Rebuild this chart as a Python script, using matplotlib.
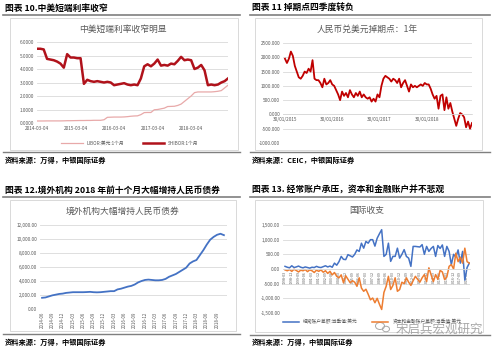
import numpy as np
import matplotlib
import matplotlib.pyplot as plt
from matplotlib.lines import Line2D
from matplotlib.patches import Rectangle, Ellipse
from matplotlib.ticker import FuncFormatter
matplotlib.use('agg')

plt.rcParams['font.family'] = ['Noto Sans CJK SC', 'DejaVu Sans']

W, H = 500, 353

# ---- 图表10: 中美短端利率 (monthly, 2014-03 ..)
rate_ticks = ["2014-03-04", "2015-03-04", "2016-03-04", "2017-03-04", "2018-03-04"]
shibor_1m = [5.5, 5.5, 5.45, 4.75, 4.7, 4.65, 4.55, 4.4, 4.1, 5.1,
             4.85, 4.85, 4.8, 4.8, 2.9, 3.2, 3.1, 3.05, 3.1, 3.05,
             3.0, 3.05, 3.0, 2.8, 2.85, 2.9, 2.95, 2.85, 2.8, 2.85,
             2.8, 3.3, 4.2, 4.35, 4.2, 4.4, 4.7, 4.25, 4.3, 4.25,
             4.4, 4.35, 4.6, 4.9, 4.65, 4.7, 4.65, 4.0, 4.1, 4.3,
             3.9, 2.8, 2.85, 2.8, 2.85, 3.0, 3.1, 3.3]
libor_1m = [0.15, 0.15, 0.15, 0.155, 0.155, 0.155, 0.155, 0.155, 0.16, 0.17,
            0.17, 0.175, 0.18, 0.185, 0.185, 0.19, 0.19, 0.2, 0.2, 0.2,
            0.24, 0.42, 0.43, 0.44, 0.44, 0.44, 0.45, 0.47, 0.5, 0.52,
            0.53, 0.62, 0.77, 0.78, 0.78, 0.98, 1.0, 1.05, 1.1, 1.22,
            1.23, 1.24, 1.3, 1.4, 1.6, 1.8, 2.0, 2.25, 2.3, 2.3,
            2.3, 2.3, 2.3, 2.32, 2.35, 2.4, 2.6, 2.8]

# ---- 图表11: 人民币兑美元掉期点 1年
swap_ticks = ["30/01/2015", "30/01/2016", "30/01/2017", "30/01/2018"]
swap_1y = [1950, 1800, 1950, 2200, 2050, 1700, 1500, 1300, 1250, 1350,
           1500, 1450, 1600, 1500, 1900, 1250, 1200, 1200, 1100, 950,
           1250, 1050, 1100, 1200, 1050, 1000, 850, 700, 500, 800,
           650, 750, 600, 850, 700, 600, 750, 650, 800, 600,
           700, 600, 550, 600, 450, 550, 450, 700, 600, 1000,
           1250, 1350, 1300, 1250, 1150, 1250, 1200, 1100, 1250, 950,
           1100, 1200, 1000, 800, 1050, 950, 1000, 950, 1000, 1050,
           1000, 1100, 1050, 1050, 900, 700, 550, 650, 200, 650,
           700, 150, 600, 200, 400, 100, -150, -400, -150, 50,
           0, -100, -450, -250, -500, -300]

# ---- 图表12: 境外机构持有人民币债券 (monthly, 2014-06 ..)
bond_ticks = ["2014-06", "2014-09", "2014-12", "2015-03", "2015-06", "2015-09",
              "2015-12", "2016-03", "2016-06", "2016-09", "2016-12", "2017-03",
              "2017-06", "2017-09", "2017-12", "2018-03", "2018-06", "2018-09"]
bond_hold = [1600, 1650, 1800, 1950, 2050, 2150, 2200, 2300, 2350, 2400,
             2400, 2400, 2400, 2420, 2450, 2400, 2380, 2400, 2450, 2500,
             2550, 2550, 2800, 2900, 3050, 3200, 3300, 3500, 3800, 4000,
             4150, 4200, 4150, 4100, 4100, 4150, 4300, 4600, 4800, 5000,
             5300, 5600, 5900, 6500, 6800, 7000, 7700, 8400, 9200, 9900,
             10300, 10600, 10750, 10550]

# ---- 图表13: 国际收支 (quarterly, 1998Q1 .. 2018Q3)
bop_quarters = ["%d-%s" % (1998 + q // 4, ["03", "06", "09", "12"][q % 4]) for q in range(83)]
current_acc = [90, 60, 40, 110, 50, 70, 100, 60, 40, 70,
               50, 30, 60, 50, 90, 60, 50, 80, 110, 70,
               100, 60, 200, 130, 250, 430, 330, 320, 490, 450,
               410, 500, 650, 600, 880, 710, 940, 880, 1000, 1000,
               780, 1050, 1200, 1340, 430, 500, 880, 260, 430, 430,
               710, 370, 500, 660, 430, 370, 90, 770, 770, 760,
               750, 830, 500, 770, 600, 700, 770, 430, 800, 700,
               820, 430, 770, 600, 150, 500, 400, 650, 200, 600,
               -380, 50, 200]
capital_acc = [-30, -60, -20, -80, -10, -50, -100, -40, -60, -20,
               -90, -30, -60, -120, -40, -80, -30, -110, -60, -150,
               -80, -200, -120, -250, -300, -200, -470, -230, -350, -470,
               -400, -450, -590, -300, -650, -760, -690, -860, -1050, -990,
               -1150, -1000, -1200, -1380, -800, -590, -250, -700, -560, -300,
               -760, -700, -450, -500, -300, -450, -560, -400, -250, -350,
               -450, -300, -190, -430, 40, -200, -430, -190, -350, -50,
               -100, -360, -270, 90, 150, 0, 540, 250, 400, 200,
               710, 250, 200]

GRID = '#D9D9D9'
TXT = '#595959'

fig = plt.figure(figsize=(W / 100, H / 100), dpi=100)


def fx(x):
    return x / W


def fy(y):
    return 1 - y / H


def make_axes(x0, y0, x1, y1):
    ax = fig.add_axes([fx(x0), fy(y1), (x1 - x0) / W, (y1 - y0) / H])
    for s in ax.spines.values():
        s.set_visible(False)
    ax.grid(axis='y', color=GRID, linewidth=0.6)
    ax.set_axisbelow(True)
    ax.tick_params(length=0, labelsize=3.4, labelcolor=TXT, pad=2)
    ax.patch.set_alpha(0)
    return ax


def hline(x0, x1, y, color='#7f7f7f', lw=1.2):
    fig.add_artist(Line2D([fx(x0), fx(x1)], [fy(y), fy(y)], color=color, lw=lw,
                          transform=fig.transFigure))


def box(x0, y0, x1, y1):
    fig.add_artist(Rectangle((fx(x0), fy(y1)), (x1 - x0) / W, (y1 - y0) / H,
                             fill=False, edgecolor=GRID, lw=0.7, transform=fig.transFigure))


def header(x, y, s):
    fig.text(fx(x), fy(y), s, fontsize=6.3, fontweight='bold', color='black',
             ha='left', va='center')


def footer(x, y, s):
    fig.text(fx(x), fy(y), s, fontsize=5.2, fontweight='bold', style='italic',
             color='black', ha='left', va='center')


def title(x, y, s):
    fig.text(fx(x), fy(y), s, fontsize=6.3, color=TXT, ha='center', va='center')


# frames, headers, footers
header(5, 8, "图表 10.中美短端利率收窄")
header(252, 8, "图表 11 掉期点四季度转负")
header(5, 190, "图表 12.境外机构 2018 年前十个月大幅增持人民币债券")
header(252, 190, "图表 13. 经常账户承压，资本和金融账户并不悲观")
hline(3, 240, 15)
hline(250, 490, 15)
hline(3, 240, 197)
hline(250, 490, 197)
box(10, 18, 238, 150)
box(255, 18, 482, 150)
box(10, 200, 236, 331)
box(255, 200, 483, 332)
hline(3, 240, 152, lw=1.0)
hline(250, 490, 152, lw=1.0)
hline(3, 240, 334, lw=1.0)
hline(250, 490, 335, lw=1.0)
footer(5, 160, "资料来源：万得，中银国际证券")
footer(252, 160, "资料来源：CEIC，中银国际证券")
footer(5, 342, "资料来源：万得，中银国际证券")
footer(252, 342, "资料来源：万得，中银国际证券")

# ---- panel 1
title(123, 29, "中美短端利率收窄明显")
ax1 = make_axes(37, 42, 228, 123)
x1 = np.arange(len(shibor_1m))
ax1.plot(x1, libor_1m, color='#E8A9A9', lw=0.9, label="LIBOR:美元:1个月")
ax1.plot(x1, shibor_1m, color='#B0121B', lw=1.8, label="SHIBOR:1个月")
ax1.set_xlim(0, len(shibor_1m) - 1)
ax1.set_ylim(0, 6)
ax1.set_yticks(np.arange(0, 7, 1))
ax1.yaxis.set_major_formatter(FuncFormatter(lambda v, p: "%.4f" % v))
ax1.set_xticks(np.arange(len(rate_ticks)) * 11.5)
ax1.set_xticklabels(rate_ticks)
ax1.legend(loc='center', bbox_to_anchor=(fx(130), fy(143)), bbox_transform=fig.transFigure,
           ncol=2, frameon=False, fontsize=3.4, handlelength=4.5, columnspacing=4,
           labelcolor=TXT)

# ---- panel 2
title(367, 29, "人民币兑美元掉期点：1年")
ax2 = make_axes(283, 43, 472, 143)
x2 = np.arange(len(swap_1y))
ax2.plot(x2, swap_1y, color='#C00000', lw=1.3)
ax2.set_xlim(-1, len(swap_1y) - 1)
ax2.set_ylim(-1000, 2500)
ax2.set_yticks(np.arange(-1000, 2501, 500))
ax2.yaxis.set_major_formatter(FuncFormatter(lambda v, p: "%.3f" % v))
ax2.spines['bottom'].set_visible(True)
ax2.spines['bottom'].set_position(('data', 0))
ax2.spines['bottom'].set_color(GRID)
ax2.spines['bottom'].set_linewidth(0.6)
ax2.set_xticks(np.arange(len(swap_ticks)) * 24)
ax2.set_xticklabels(swap_ticks)

# ---- panel 3
title(123, 211, "境外机构大幅增持人民币债券")
ax3 = make_axes(40, 225, 227, 309)
x3 = np.arange(len(bond_hold))
ax3.plot(x3, bond_hold, color='#4472C4', lw=1.3)
ax3.set_xlim(-0.6, len(bond_hold) - 0.1)
ax3.set_ylim(0, 12000)
ax3.set_yticks(np.arange(0, 12001, 2000))
ax3.yaxis.set_major_formatter(FuncFormatter(lambda v, p: "{:,.2f}".format(v)))
ax3.set_xticks(np.arange(len(bond_ticks)) * 3)
ax3.set_xticklabels(bond_ticks, rotation=90)
ax3.tick_params(axis='x', labelsize=3.2, pad=2)

# ---- panel 4
title(367, 211, "国际收支")
ax4 = make_axes(283, 225, 470, 313)
x4 = np.arange(len(current_acc))
l1, = ax4.plot(x4, current_acc, color='#4472C4', lw=1.1)
l2, = ax4.plot(x4, capital_acc, color='#ED7D31', lw=1.1)
ax4.set_xlim(-0.9, len(current_acc) - 0.7)
ax4.set_ylim(-1500, 1500)
ax4.set_yticks(np.arange(-1500, 1501, 500))
ax4.yaxis.set_major_formatter(FuncFormatter(lambda v, p: "{:,.2f}".format(v)))
ax4.spines['bottom'].set_visible(True)
ax4.spines['bottom'].set_position(('data', 0))
ax4.spines['bottom'].set_color(GRID)
ax4.spines['bottom'].set_linewidth(0.6)
ax4.set_xticks(x4[::3])
ax4.set_xticklabels(bop_quarters[::3], rotation=90)
ax4.tick_params(axis='x', labelsize=2.6, pad=1.5)
fig.legend([l1, l2], ["经常账户差额:当季值:美元", "资本和金融账户差额:当季值:美元"],
           loc='center', bbox_to_anchor=(fx(372), fy(322)), bbox_transform=fig.transFigure,
           ncol=2, frameon=False, fontsize=3.4, handlelength=3.5, columnspacing=3,
           labelcolor=TXT)

# watermark (wechat-style icon drawn as two small bubbles + text)
for cx, cy, w, h in [(380, 326, 9, 7), (386, 329, 7, 5.5)]:
    fig.add_artist(Ellipse((fx(cx), fy(cy)), w / W, h / H, fill=False,
                           edgecolor='#a8a8a8', lw=0.7, transform=fig.transFigure))
fig.text(fx(439), fy(330), "宋启兵宏观研究", fontsize=9, color='#9a9a9a', alpha=0.85,
         ha='center', va='center')

fig.savefig('out.png', dpi=100)
